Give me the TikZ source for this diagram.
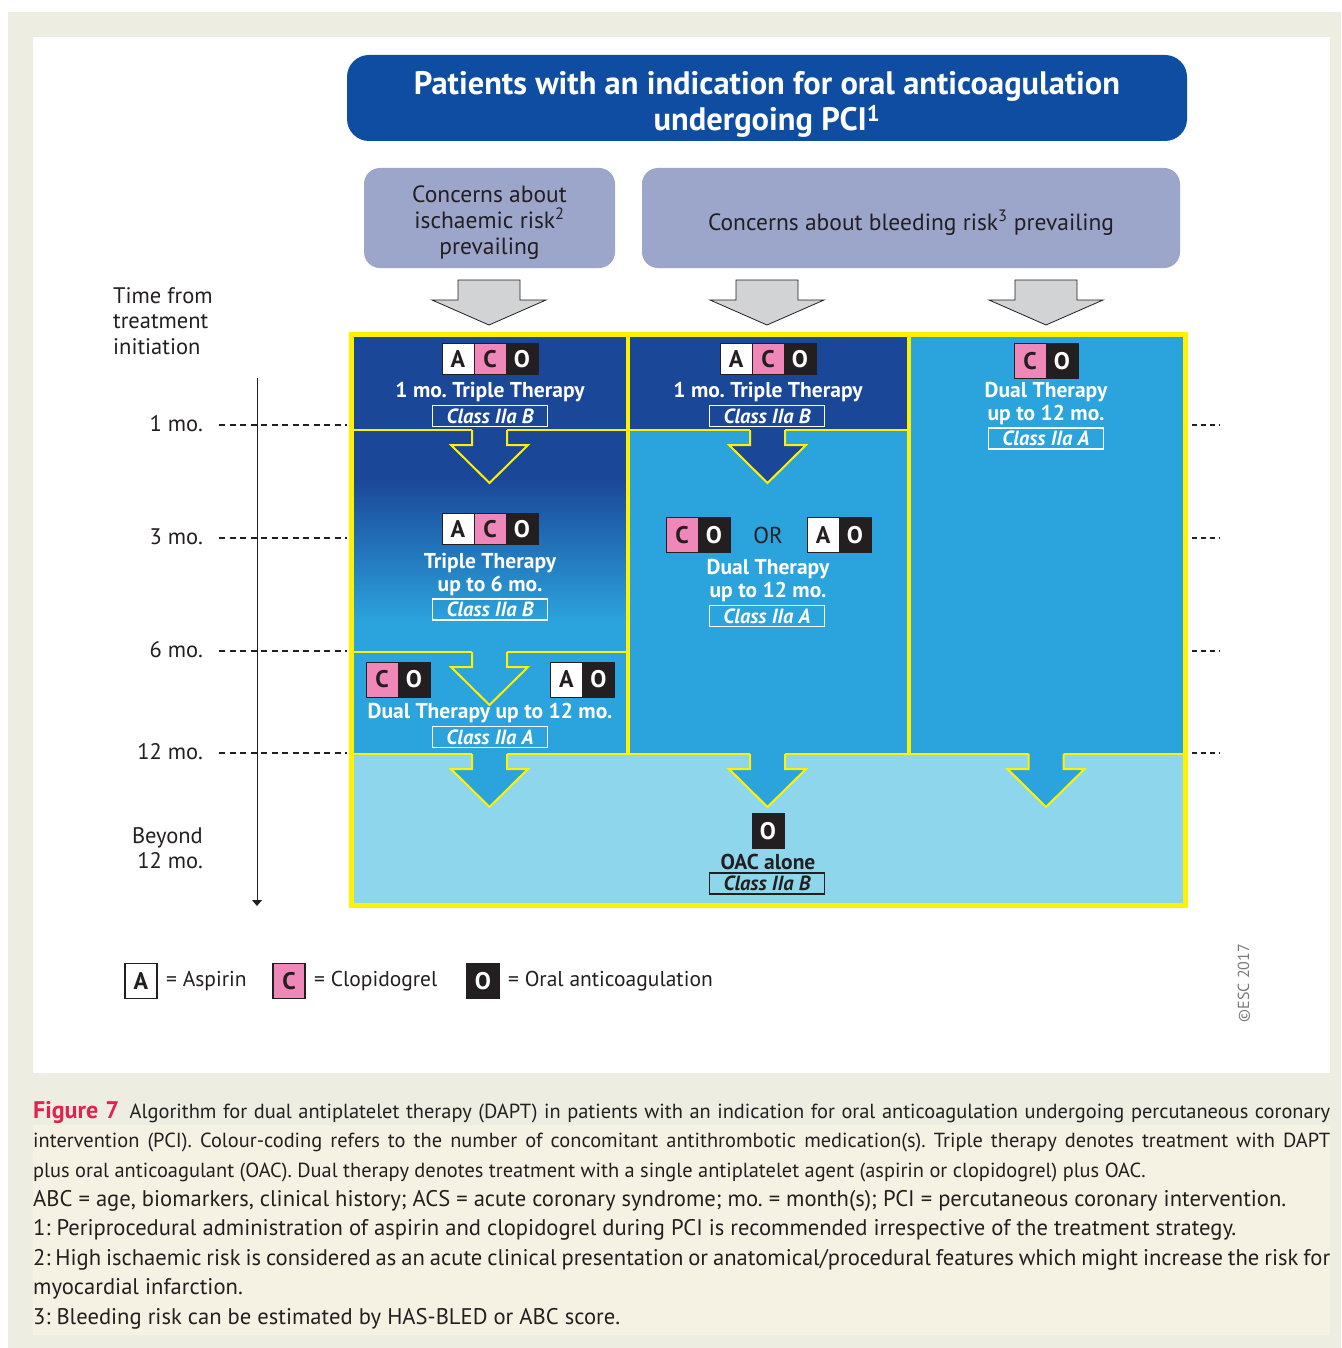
\documentclass[tikz,border=0pt]{standalone}
\usepackage{fontspec}
\setmainfont{PT Sans}
\usetikzlibrary{positioning,arrows.meta}

\definecolor{titleblue}{HTML}{0E4DA1}
\definecolor{concern}{HTML}{9CA6CA}
\definecolor{dkblue}{HTML}{1B4799}
\definecolor{mdblue}{HTML}{2BA3DC}
\definecolor{ltblue}{HTML}{8ED6EC}
\definecolor{escyellow}{HTML}{FFF200}
\definecolor{pinkC}{HTML}{EF87B9}
\definecolor{ink}{HTML}{231F20}
\definecolor{arrowgray}{HTML}{D1D3D4}
\definecolor{framebg}{HTML}{EEEDE2}
\definecolor{cream}{HTML}{F5F2E4}
\definecolor{figred}{HTML}{E0224F}

\pgfdeclareverticalshading{monthfade}{100bp}{color(0bp)=(mdblue); color(32bp)=(mdblue); color(64bp)=(dkblue); color(100bp)=(dkblue)}

\newcommand{\fsz}[2]{\fontsize{#1}{#2}\selectfont}

% notched arrow inside the grid: centre x, top y, fill
\newcommand{\steparrow}[3]{%
  \fill[#3] (#1-17.5,#2-3) -- (#1-17.5,#2+15) -- (#1-38.5,#2+15) -- (#1,#2+53)
    -- (#1+38.5,#2+15) -- (#1+17.5,#2+15) -- (#1+17.5,#2-3) -- cycle;
  \draw[escyellow, line width=2pt, line join=miter] (#1-17.5,#2) -- (#1-17.5,#2+15)
    -- (#1-38.5,#2+15) -- (#1,#2+53) -- (#1+38.5,#2+15) -- (#1+17.5,#2+15) -- (#1+17.5,#2);}

% grey arrow under the concern boxes: centre x
\newcommand{\grayarrow}[1]{%
  \draw[ink, fill=arrowgray, line width=0.8pt] (#1-31,280) -- (#1+31,280) -- (#1+31,300)
    -- (#1+57,300) -- (#1,325) -- (#1-57,300) -- (#1-31,300) -- cycle;}

\begin{document}
\frenchspacing
\begin{tikzpicture}[x=1pt, y=-1pt, node distance=32pt,
    badge/.style={draw=ink, line width=0.6pt, minimum width=32pt, minimum height=35pt,
                  inner sep=0pt, font=\fsz{24}{24}\bfseries},
    aspirin/.style={badge, fill=white, text=ink},
    clopi/.style={badge, fill=pinkC, text=ink},
    oac/.style={badge, fill=ink, text=white},
    short/.style={minimum height=31pt},
    therapy/.style={text=white, inner sep=0pt, align=center, font=\fsz{21.5}{23}\bfseries},
    classbox/.style={draw=white, line width=1.1pt, minimum width=115pt, minimum height=21pt,
                     inner sep=0pt, text=white, font=\fsz{20.5}{20}\bfseries\itshape},
    concern/.style={fill=concern, rounded corners=16pt, minimum height=100pt, text=ink,
                    align=center, font=\fsz{23.5}{26}},
    timelabel/.style={text=ink, inner sep=0pt, font=\fsz{22.5}{25.5}},
    legend/.style={text=ink, inner sep=0pt, anchor=west, font=\fsz{21.5}{21}}]

\useasboundingbox (0,0) rectangle (1341,1348);
\fill[white] (0,0) rectangle (1341,1348);
\fill[framebg] (8,12) rectangle (1341,1348);
\fill[white] (33,37) rectangle (1330,1073);
\fill[cream] (33,1125) rectangle (1330,1335);

% title and concerns
\node[fill=titleblue, rounded corners=22pt, minimum width=840pt, minimum height=86pt,
      text=white, align=center, font=\bfseries\fsz{32.5}{36}] (title) at (767,98)
  {\rule{0pt}{36pt}Patients with an indication for oral anticoagulation\\undergoing PCI\textsuperscript{1}};
\node[concern, minimum width=251pt] (ischaemic) at (489.5,218) {\rule{0pt}{26pt}Concerns about\\ischaemic risk\textsuperscript{2}\\prevailing};
\node[concern, minimum width=538pt] (bleeding) at (911,218) {\rule{0pt}{30pt}Concerns about bleeding risk\textsuperscript{3} prevailing};

\grayarrow{489}
\grayarrow{767}
\grayarrow{1046}

% cells
\fill[dkblue] (351.5,334.5) rectangle (909,430);
\fill[shading=monthfade] (351.5,430) rectangle (628,652);
\fill[mdblue] (351.5,652) rectangle (628,754);
\fill[mdblue] (628,430) rectangle (909,754);
\fill[mdblue] (909,334.5) rectangle (1185,754);
\fill[ltblue] (351.5,754) rectangle (1185,905);

\draw[escyellow, line width=2.5pt] (351.5,430) -- (909,430);
\draw[escyellow, line width=2.5pt] (351.5,652) -- (628,652);
\draw[escyellow, line width=2.5pt] (351.5,754) -- (1185,754);
\draw[escyellow, line width=3.5pt] (628,334.5) -- (628,754);
\draw[escyellow, line width=3.5pt] (909,334.5) -- (909,754);

\steparrow{489.5}{430}{dkblue}
\steparrow{767.5}{430}{dkblue}
\steparrow{489.5}{652}{mdblue}
\steparrow{489.5}{754}{mdblue}
\steparrow{767.5}{754}{mdblue}
\steparrow{1046}{754}{mdblue}

\draw[escyellow, line width=5pt] (351.5,334.5) rectangle (1185,905);

% column 1
\node[aspirin, short] (a1) at (458,359) {A};
\node[clopi, short] (c1) [right of=a1] {C};
\node[oac, short] (o1) [right of=c1] {O};
\node[therapy] (t1) at (490,392) {1 mo. Triple Therapy};
\node[classbox] (k1) at (490,416) {Class IIa B};

\node[aspirin, short] (a2) at (458,529) {A};
\node[clopi, short] (c2) [right of=a2] {C};
\node[oac, short] (o2) [right of=c2] {O};
\node[therapy] (t2) at (490,575) {Triple Therapy\\up to 6 mo.};
\node[classbox] (k2) at (490,609.5) {Class IIa B};

\node[clopi] (c3) at (382,679.5) {C};
\node[oac] (o3) [right of=c3] {O};
\node[aspirin] (a3) at (566.5,679.5) {A};
\node[oac] (o3b) [right of=a3] {O};
\node[therapy] (t3) at (490,713) {Dual Therapy up to 12 mo.};
\node[classbox] (k3) at (490,737) {Class IIa A};

% column 2
\node[aspirin, short] (a4) at (736,359) {A};
\node[clopi, short] (c4) [right of=a4] {C};
\node[oac, short] (o4) [right of=c4] {O};
\node[therapy] (t4) at (768,392) {1 mo. Triple Therapy};
\node[classbox] (k4) at (767,416) {Class IIa B};

\node[clopi] (c5) at (682,535) {C};
\node[oac] (o5) [right of=c5] {O};
\node[text=ink, font=\fsz{23}{23}] (or) at (768,535) {OR};
\node[aspirin] (a5) at (823,535) {A};
\node[oac] (o5b) [right of=a5] {O};
\node[therapy] (t5) at (768,581) {Dual Therapy\\up to 12 mo.};
\node[classbox] (k5) at (767,616) {Class IIa A};

% column 3
\node[clopi] (c6) at (1030,361) {C};
\node[oac] (o6) [right of=c6] {O};
\node[therapy] (t6) at (1046,403.5) {Dual Therapy\\up to 12 mo.};
\node[classbox] (k6) at (1046,438.5) {Class IIa A};

% beyond 12 months
\node[oac] (o7) at (768,831) {O};
\node[therapy, text=ink] (t7) at (768,862) {OAC alone};
\node[classbox, draw=ink, text=ink] (k7) at (767,883.5) {Class IIa B};

% time axis
\node[timelabel, align=left, anchor=west] (timehead) at (113,321) {Time from\\treatment\\initiation};
\node[timelabel, anchor=east] (m1) at (203,424) {1 mo.};
\node[timelabel, anchor=east] (m3) at (203,537) {3 mo.};
\node[timelabel, anchor=east] (m6) at (203,650) {6 mo.};
\node[timelabel, anchor=east] (m12) at (203,752) {12 mo.};
\node[timelabel, align=right, anchor=east] (beyond) at (203,848) {Beyond\\12 mo.};
\coordinate (axtop) at (257,378);
\coordinate (axbot) at (257,906);
\draw[ink, line width=1pt, -{Triangle[width=10pt,length=6pt]}] (axtop) -- (axbot);
\foreach \y in {425,538,651,753} {
  \draw[ink, line width=1.3pt, dash pattern=on 6pt off 4.5pt] (219,\y) -- (347,\y);
  \draw[ink, line width=1.3pt, dash pattern=on 5pt off 4pt] (1192,\y) -- (1220,\y);
}

% legend
\node[aspirin, line width=1.2pt] (la) at (141,981) {A};
\node[legend] (lat) at (166,981) {= Aspirin};
\node[clopi, line width=1.2pt] (lc) at (289,981) {C};
\node[legend] (lct) at (314,981) {= Clopidogrel};
\node[oac, line width=1.2pt] (lo) at (483,981) {O};
\node[legend] (lot) at (508,981) {= Oral anticoagulation};

\node[rotate=90, text=ink!60, font=\fsz{16}{16}] (esc) at (1244,983) {©ESC 2017};

% caption
\node[anchor=north west, text width=1297pt, inner sep=0pt, align=justify, text=ink,
      font=\fsz{20.4}{29.5}] (caption) at (33,1101)
  {{\bfseries\color{figred}\fsz{24}{29.5}Figure 7}\hspace{4pt} Algorithm for dual antiplatelet therapy (DAPT) in patients with an indication for oral anticoagulation undergoing percutaneous coronary\linebreak
   intervention (PCI). Colour-coding refers to the number of concomitant antithrombotic medication(s). Triple therapy denotes treatment with DAPT\linebreak
   plus oral anticoagulant (OAC). Dual therapy denotes treatment with a single antiplatelet agent (aspirin or clopidogrel) plus OAC.};
\node[anchor=north west, text width=1297pt, inner sep=0pt, align=justify, text=ink,
      font=\fsz{22.6}{29.5}] (notes) at (33,1190)
  {ABC = age, biomarkers, clinical history; ACS = acute coronary syndrome; mo. = month(s); PCI = percutaneous coronary intervention.\newline
   1: Periprocedural administration of aspirin and clopidogrel during PCI is recommended irrespective of the treatment strategy.\newline
   2: High ischaemic risk is considered as an acute clinical presentation or anatomical/procedural features which might increase the risk for\linebreak
   myocardial infarction.\newline
   3: Bleeding risk can be estimated by HAS-BLED or ABC score.};

\end{tikzpicture}
\end{document}
